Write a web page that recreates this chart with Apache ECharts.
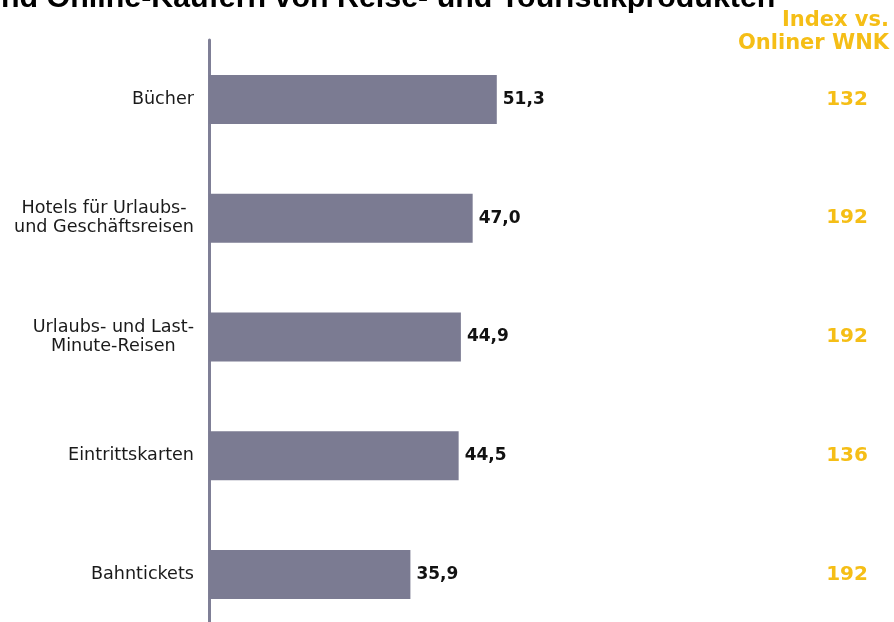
<!DOCTYPE html>
<html>
<head>
<meta charset="utf-8">
<style>
  html, body { margin: 0; padding: 0; background: #ffffff; }
  #chart { width: 894px; height: 622px; }
</style>
<script src="https://cdn.jsdelivr.net/npm/echarts@6/dist/echarts.min.js"></script>
</head>
<body>
<div id="chart"></div>
<script>
// Product categories, top to bottom
var categories = [
  'Bücher',
  'Hotels für Urlaubs-\nund Geschäftsreisen',
  'Urlaubs- und Last-\nMinute-Reisen',
  'Eintrittskarten',
  'Bahntickets'
];
// Share of online buyers (percent)
var shares = [51.3, 47.0, 44.9, 44.5, 35.9];
// Index vs. Onliner WNK
var indexValues = [132, 192, 192, 136, 192];

var headline = 'nd Online-Käufern von Reise- und Touristikprodukten';
var indexHeaderLines = ['Index vs.', 'Onliner WNK'];

var BAR = '#7b7b92';
var GOLD = '#f5be16';

function fmtDe(v) {
  return v.toFixed(1).replace('.', ',');
}

var chart = echarts.init(document.getElementById('chart'), null, { renderer: 'canvas' });

var headerStyle = { fontFamily: 'DejaVu Sans', fontWeight: 'bold', fontSize: 21, color: GOLD };

chart.setOption({
  animation: false,
  backgroundColor: '#ffffff',
  title: [
    {
      text: headline,
      left: -4,
      top: -21,
      textStyle: { fontFamily: 'Liberation Sans', fontWeight: 'bold', fontSize: 30.4, color: '#000000' }
    },
    { text: indexHeaderLines[0], right: 0, top: 5, textStyle: headerStyle },
    { text: indexHeaderLines[1], right: 0, top: 28, textStyle: headerStyle }
  ],
  grid: { left: 209, top: 40, width: 561, height: 594, outerBoundsMode: 'none', containLabel: false },
  xAxis: {
    type: 'value',
    min: 0,
    max: 100,
    show: false
  },
  yAxis: [
    {
      type: 'category',
      inverse: true,
      data: categories,
      axisLine: { show: true, lineStyle: { color: '#7f7f96', width: 3 } },
      axisTick: { show: false },
      axisLabel: {
        margin: 15,
        align: 'right',
        formatter: function (v) {
          return v.split('\n').map(function (l) { return '{c|' + l + '}'; }).join('\n');
        },
        rich: {
          c: { align: 'center', fontFamily: 'DejaVu Sans', fontSize: 17.6, lineHeight: 19, color: '#1a1a1a' }
        }
      }
    },
    {
      type: 'category',
      inverse: true,
      position: 'right',
      data: indexValues.map(String),
      axisLine: { show: false },
      axisTick: { show: false },
      axisLabel: {
        margin: 77,
        align: 'center',
        fontFamily: 'DejaVu Sans',
        fontWeight: 'bold',
        fontSize: 20,
        color: GOLD
      }
    }
  ],
  series: [
    {
      type: 'bar',
      yAxisIndex: 0,
      data: shares,
      barWidth: 49,
      itemStyle: { color: BAR },
      label: {
        show: true,
        position: 'right',
        distance: 6,
        formatter: function (p) { return fmtDe(p.value); },
        fontFamily: 'DejaVu Sans',
        fontWeight: 'bold',
        fontSize: 17,
        color: '#111111'
      }
    }
  ]
});
</script>
</body>
</html>
